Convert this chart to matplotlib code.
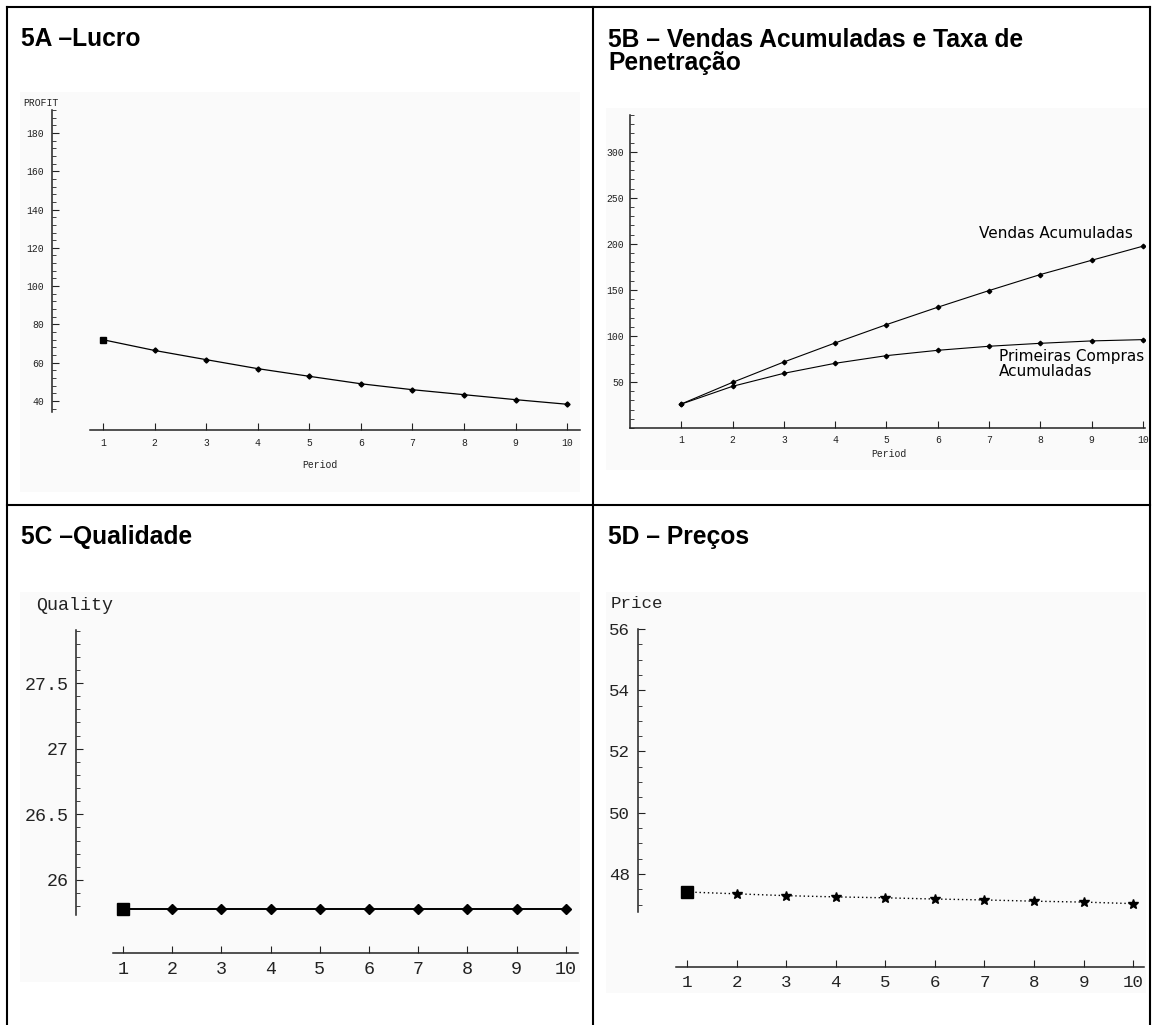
import matplotlib
matplotlib.use("Agg")
import numpy as np
import matplotlib.pyplot as plt
from matplotlib.ticker import FixedLocator
from matplotlib.patches import Rectangle
from matplotlib.lines import Line2D

# ---------------- data ----------------
periods = [1, 2, 3, 4, 5, 6, 7, 8, 9, 10]
profit = [72.0, 66.4, 61.6, 56.9, 52.9, 49.0, 45.9, 43.3, 40.7, 38.3]
vendas_acumuladas = [26.1, 49.6, 71.7, 92.4, 112.3, 131.2, 149.3, 166.7, 182.2, 197.5]
primeiras_compras_acumuladas = [26.0, 45.3, 59.4, 70.3, 78.6, 84.4, 88.8, 92.0, 94.6, 96.0]
quality = [25.78, 25.78, 25.78, 25.78, 25.78, 25.78, 25.78, 25.78, 25.78, 25.78]
price = [47.41, 47.35, 47.29, 47.25, 47.22, 47.18, 47.15, 47.11, 47.08, 47.03]

titles = ["5A \u2013Lucro", "5B \u2013 Vendas Acumuladas e Taxa de\nPenetra\u00e7\u00e3o",
          "5C \u2013Qualidade", "5D \u2013 Pre\u00e7os"]
ylabels = ["PROFIT", "", "Quality", "Price"]
xlabels = ["Period", "Period", "", ""]
ticks_a = [40, 60, 80, 100, 120, 140, 160, 180]
ticks_b = [50, 100, 150, 200, 250, 300]
ticks_c = [26, 26.5, 27, 27.5]
ticks_c_labels = ["26", "26.5", "27", "27.5"]
ticks_d = [48, 50, 52, 54, 56]
series_labels = ["Vendas Acumuladas", "Primeiras Compras\nAcumuladas"]

# ---------------- layout ----------------
W, H = 1154, 1025
fig = plt.figure(figsize=(W / 100, H / 100), dpi=100)
fig.patch.set_facecolor("white")
MONO = "Liberation Mono"
SANS = "Liberation Sans"
INK = "#222222"


def rect(l, r, t, b):
    return [l / W, 1 - b / H, (r - l) / W, (b - t) / H]


def fx(x):
    return x / W


def fy(y):
    return 1 - y / H


# table lines
for (x0, y0, x1, y1) in [(7, 7, 1150, 7), (7, 7, 7, 1025), (1150, 7, 1150, 1025),
                         (7, 505, 1150, 505), (593, 7, 593, 1025)]:
    fig.add_artist(Line2D([fx(x0), fx(x1)], [fy(y0), fy(y1)], color="black", lw=1.5,
                          transform=fig.transFigure))

# light plot backgrounds
for (l, r, t, b) in [(20, 580, 92, 492), (606, 1148, 108, 470),
                     (20, 580, 592, 982), (606, 1146, 592, 993)]:
    fig.add_artist(Rectangle((fx(l), fy(b)), fx(r - l), (b - t) / H, facecolor="#fafafa",
                             edgecolor="none", transform=fig.transFigure, zorder=-5))

# titles (baseline positioned)
TSIZE = 17.7
fig.text(fx(21), fy(46), titles[0], fontsize=TSIZE, fontweight="bold", family=SANS,
         va="baseline")
for i, line in enumerate(titles[1].split("\n")):
    fig.text(fx(608), fy(47 + 23 * i), line, fontsize=TSIZE, fontweight="bold", family=SANS,
             va="baseline")
fig.text(fx(21), fy(544), titles[2], fontsize=TSIZE, fontweight="bold", family=SANS,
         va="baseline")
fig.text(fx(608), fy(544), titles[3], fontsize=TSIZE, fontweight="bold", family=SANS,
         va="baseline")


def style(ax, lsize, pad_x, pad_y):
    ax.patch.set_visible(False)
    for s in ["top", "right"]:
        ax.spines[s].set_visible(False)
    for s in ["left", "bottom"]:
        ax.spines[s].set_linewidth(1.1)
        ax.spines[s].set_color(INK)
    ax.tick_params(axis="both", which="both", direction="in", colors=INK)
    ax.tick_params(axis="both", which="major", length=5, width=0.8, labelsize=lsize)
    ax.tick_params(axis="both", which="minor", length=3, width=0.6)
    ax.tick_params(axis="x", pad=pad_x)
    ax.tick_params(axis="y", pad=pad_y)
    for lab in ax.get_xticklabels() + ax.get_yticklabels():
        lab.set_family(MONO)


def minor_within(lo, hi, step):
    start = np.ceil(lo / step - 1e-9) * step
    return list(np.arange(start, hi + 1e-9, step))


# ---------- 5A ----------
axA = fig.add_axes(rect(52, 580, 110, 430))
axA.set_xlim(0.011, 10.25)
axA.set_ylim(24.85, 192.0)
axA.spines["bottom"].set_bounds(0.748, 10.25)
axA.spines["left"].set_bounds(34.25, 192.0)
axA.plot(periods, profit, color="black", lw=0.9)
axA.plot(periods[1:], profit[1:], ls="none", marker="D", ms=2.6, color="black")
axA.plot(periods[:1], profit[:1], ls="none", marker="s", ms=4.5, color="black")
axA.xaxis.set_major_locator(FixedLocator(periods))
axA.yaxis.set_major_locator(FixedLocator(ticks_a))
axA.yaxis.set_minor_locator(FixedLocator(minor_within(34.25, 192.0, 4)))
style(axA, 7, 5.5, 5.5)
fig.text(fx(23), fy(103), ylabels[0], family=MONO, fontsize=7, va="center", color=INK)
fig.text(fx(320), fy(465), xlabels[0], family=MONO, fontsize=7, va="center", ha="center",
         color=INK)

# ---------- 5B ----------
axB = fig.add_axes(rect(630, 1145, 115, 428))
axB.set_xlim(0, 10.04)
axB.set_ylim(0, 340)
axB.plot(periods, vendas_acumuladas, color="black", lw=0.8, marker="D", ms=2.3)
axB.plot(periods, primeiras_compras_acumuladas, color="black", lw=0.8, marker="D", ms=2.3)
axB.xaxis.set_major_locator(FixedLocator(periods))
axB.yaxis.set_major_locator(FixedLocator(ticks_b))
axB.yaxis.set_minor_locator(FixedLocator(minor_within(0, 340, 10)))
style(axB, 7, 5, 4.5)
fig.text(fx(889), fy(454), xlabels[1], family=MONO, fontsize=7, va="center", ha="center",
         color=INK)
fig.text(fx(979), fy(233), series_labels[0], fontsize=11, family="DejaVu Sans", va="center",
         ha="left")
fig.text(fx(999), fy(364), series_labels[1], fontsize=11, family="DejaVu Sans", va="center",
         ha="left", linespacing=1.0)

# ---------- 5C ----------
axC = fig.add_axes(rect(76, 578, 630, 953))
axC.set_xlim(0.045, 10.248)
axC.set_ylim(25.444, 27.904)
axC.spines["bottom"].set_bounds(0.797, 10.248)
axC.spines["left"].set_bounds(25.733, 27.904)
axC.plot(periods, quality, color="black", lw=1.4)
axC.plot(periods[1:], quality[1:], ls="none", marker="D", ms=5, color="black")
axC.plot(periods[:1], quality[:1], ls="none", marker="s", ms=8, color="black")
axC.xaxis.set_major_locator(FixedLocator(periods))
axC.yaxis.set_major_locator(FixedLocator(ticks_c))
axC.set_yticklabels(ticks_c_labels)
axC.yaxis.set_minor_locator(FixedLocator(minor_within(25.733, 27.904, 0.1)))
style(axC, 13.2, 5.5, 5.0)
fig.text(fx(36), fy(606), ylabels[2], family=MONO, fontsize=13.2, va="center", color=INK)

# ---------- 5D ----------
axD = fig.add_axes(rect(638, 1144, 629, 967))
axD.set_xlim(0.011, 10.22)
axD.set_ylim(44.96, 56.0)
axD.spines["bottom"].set_bounds(0.778, 10.22)
axD.spines["left"].set_bounds(46.76, 56.0)
axD.plot(periods, price, color="black", lw=1.0, ls=(0, (1, 2)))
axD.plot(periods[1:], price[1:], ls="none", marker="*", ms=7, color="black")
axD.plot(periods[:1], price[:1], ls="none", marker="s", ms=8, color="black")
axD.xaxis.set_major_locator(FixedLocator(periods))
axD.yaxis.set_major_locator(FixedLocator(ticks_d))
axD.yaxis.set_minor_locator(FixedLocator(minor_within(46.76, 56.0, 0.5)))
style(axD, 12.6, 5.5, 5.5)
fig.text(fx(611), fy(603), ylabels[3], family=MONO, fontsize=12.6, va="center", color=INK)

fig.savefig("out.png", dpi=100)
